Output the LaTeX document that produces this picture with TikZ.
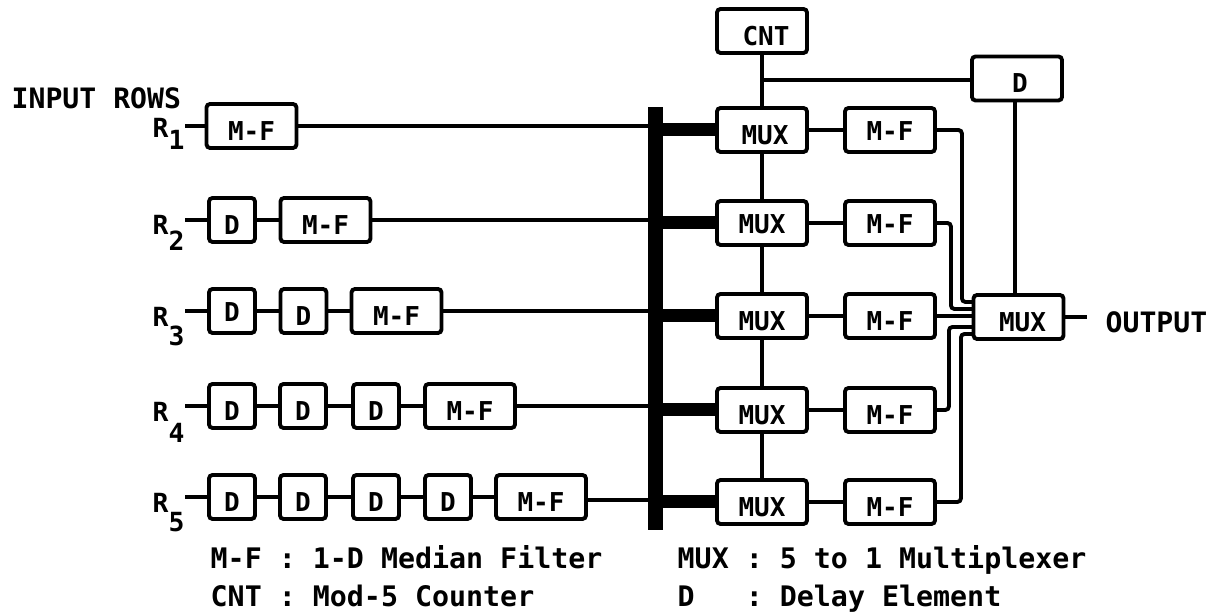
\documentclass[tikz,border=0pt]{standalone}
\usepackage{fontspec}
\setmonofont{DejaVu Sans Mono}
\tikzset{
  blockbox/.style={draw,line width=1.1pt,rounded corners=1pt,inner sep=0pt,minimum height=0.44cm,text depth=0pt,text height=8.2pt,font=\ttfamily\bfseries\fontsize{7.4}{9}\selectfont},
  hightext/.style={text height=6.2pt},
  muxbox/.style={blockbox,minimum width=0.90cm},
  mfbox/.style={blockbox,minimum width=0.90cm},
  delaybox/.style={blockbox,minimum width=0.46cm},
  rowlabel/.style={inner sep=0pt,anchor=base west,font=\ttfamily\bfseries\fontsize{7.5}{9}\selectfont},
  sidelabel/.style={inner sep=0pt,anchor=west,font=\ttfamily\bfseries\fontsize{8}{9}\selectfont},
  legendtext/.style={inner sep=0pt,anchor=base west,font=\ttfamily\bfseries\fontsize{8.05}{10}\selectfont},
  wire/.style={line width=1.1pt},
  buswire/.style={line width=3.7pt}
}
\newcommand{\rowsub}[2]{R\raisebox{-#2cm}{#1}}
\begin{document}
\begin{tikzpicture}
\useasboundingbox (0,0) rectangle (12.2,6.13);
% input rows
\node[rowlabel] (r1) at (1.52,4.75) {\rowsub{1}{0.12}};
\node[rowlabel] (r2) at (1.52,3.78) {\rowsub{2}{0.16}};
\node[rowlabel] (r3) at (1.52,2.86) {\rowsub{3}{0.19}};
\node[rowlabel] (r4) at (1.52,1.91) {\rowsub{4}{0.21}};
\node[rowlabel] (r5) at (1.52,1.00) {\rowsub{5}{0.19}};
\node[sidelabel] (rows) at (0.11,5.15) {INPUT ROWS};
\node[mfbox] (mf1) at (2.515,4.87) {M-F};
\node[delaybox] (d21) at (2.32,3.93) {D};
\node[mfbox] (mf2) at (3.255,3.93) {M-F};
\node[delaybox,hightext] (d31) at (2.32,3.02) {D};
\node[delaybox] (d32) at (3.035,3.02) {D};
\node[mfbox] (mf3) at (3.965,3.02) {M-F};
\node[delaybox] (d41) at (2.32,2.07) {D};
\node[delaybox] (d42) at (3.03,2.07) {D};
\node[delaybox] (d43) at (3.76,2.07) {D};
\node[mfbox] (mf4) at (4.70,2.07) {M-F};
\node[delaybox] (d51) at (2.32,1.16) {D};
\node[delaybox] (d52) at (3.03,1.16) {D};
\node[delaybox] (d53) at (3.76,1.16) {D};
\node[delaybox] (d54) at (4.48,1.16) {D};
\node[mfbox] (mf5) at (5.41,1.16) {M-F};
% bus and second stage
\node[draw,fill=black,inner sep=0pt,minimum width=0.14cm,minimum height=4.22cm] (bus) at (6.555,2.945) {};
\node[muxbox] (cnt) at (7.62,5.82) {\hspace*{0.08cm}CNT};
\node[muxbox] (mux1) at (7.62,4.83) {\hspace*{0.06cm}MUX};
\node[muxbox,hightext] (mux2) at (7.62,3.90) {MUX};
\node[muxbox] (mux3) at (7.62,2.97) {MUX};
\node[muxbox] (mux4) at (7.62,2.03) {MUX};
\node[muxbox] (mux5) at (7.62,1.11) {MUX};
\node[mfbox,hightext] (out1) at (8.90,4.83) {M-F};
\node[mfbox,hightext] (out2) at (8.90,3.90) {M-F};
\node[mfbox] (out3) at (8.90,2.97) {M-F};
\node[mfbox] (out4) at (8.90,2.03) {M-F};
\node[mfbox] (out5) at (8.90,1.11) {M-F};
\node[muxbox] (dtop) at (10.17,5.345) {\hspace*{0.06cm}D};
\node[muxbox] (omux) at (10.185,2.96) {\hspace*{0.08cm}MUX};
\node[sidelabel] (output) at (11.05,2.91) {OUTPUT};
\coordinate (tap) at (7.62,5.33);
\coordinate (outend) at (10.87,2.96);
\coordinate (in1) at (9.73,3.11);
\coordinate (in2) at (9.73,3.04);
\coordinate (in4) at (9.73,2.86);
\coordinate (in5) at (9.73,2.79);
\coordinate (dfoot) at (10.15,5.0);
% connectors, left side
\draw[wire] (r1.east |- mf1) -- (mf1);
\draw[wire] (r2.east |- d21) -- (d21);
\draw[wire] (d21) -- (mf2);
\draw[wire] (r3.east |- d31) -- (d31);
\draw[wire] (d31) -- (d32);
\draw[wire] (d32) -- (mf3);
\draw[wire] (r4.east |- d41) -- (d41);
\draw[wire] (d41) -- (d42);
\draw[wire] (d42) -- (d43);
\draw[wire] (d43) -- (mf4);
\draw[wire] (r5.east |- d51) -- (d51);
\draw[wire] (d51) -- (d52);
\draw[wire] (d52) -- (d53);
\draw[wire] (d53) -- (d54);
\draw[wire] (d54) -- (mf5);
\draw[wire] (mf1.east) -- (mf1.east -| bus.center);
\draw[wire] (mf2.east) -- (mf2.east -| bus.center);
\draw[wire] (mf3.east) -- (mf3.east -| bus.center);
\draw[wire] (mf4.east) -- (mf4.east -| bus.center);
\draw[wire] ([yshift=-0.03cm]mf5.east) -- ([yshift=-0.03cm]mf5.east -| bus.center);
\draw[buswire] (bus.center |- mux1) -- (mux1.west);
\draw[buswire] (bus.center |- mux2) -- (mux2.west);
\draw[buswire] (bus.center |- mux3) -- (mux3.west);
\draw[buswire] (bus.center |- mux4) -- (mux4.west);
\draw[buswire] (bus.center |- mux5) -- (mux5.west);
% connectors, right side
\draw[wire] (cnt) -- (mux1);
\draw[wire] (tap) -- (tap -| dtop.west);
\draw[wire] (mux1) -- (mux2);
\draw[wire] (mux2) -- (mux3);
\draw[wire] (mux3) -- (mux4);
\draw[wire] (mux4) -- (mux5);
\draw[wire] (mux1) -- (out1);
\draw[wire] (mux2) -- (out2);
\draw[wire] (mux3) -- (out3);
\draw[wire] (mux4) -- (out4);
\draw[wire] (mux5) -- (out5);
\draw[wire,rounded corners=1pt] (out1.east) -- ++(0.25,0) |- (in1);
\draw[wire,rounded corners=1pt] (out2.east) -- ++(0.14,0) |- (in2);
\draw[wire] (out3.east) -- (out3.east -| omux.west);
\draw[wire,rounded corners=1pt] (out4.east) -- ++(0.12,0) |- (in4);
\draw[wire,rounded corners=1pt] (out5.east) -- ++(0.24,0) |- (in5);
\draw[wire] (dfoot |- dtop.south) -- (dfoot |- omux.north);
\draw[wire] (omux.east) -- (outend);
% legend
\node[legendtext] (lmf) at (2.10,0.44) {M-F : 1-D Median Filter};
\node[legendtext] (lcnt) at (2.10,0.06) {CNT : Mod-5 Counter};
\node[legendtext] (lmux) at (6.77,0.44) {MUX : 5 to 1 Multiplexer};
\node[legendtext] (ld) at (6.77,0.06) {D~~~: Delay Element};
\end{tikzpicture}
\end{document}
